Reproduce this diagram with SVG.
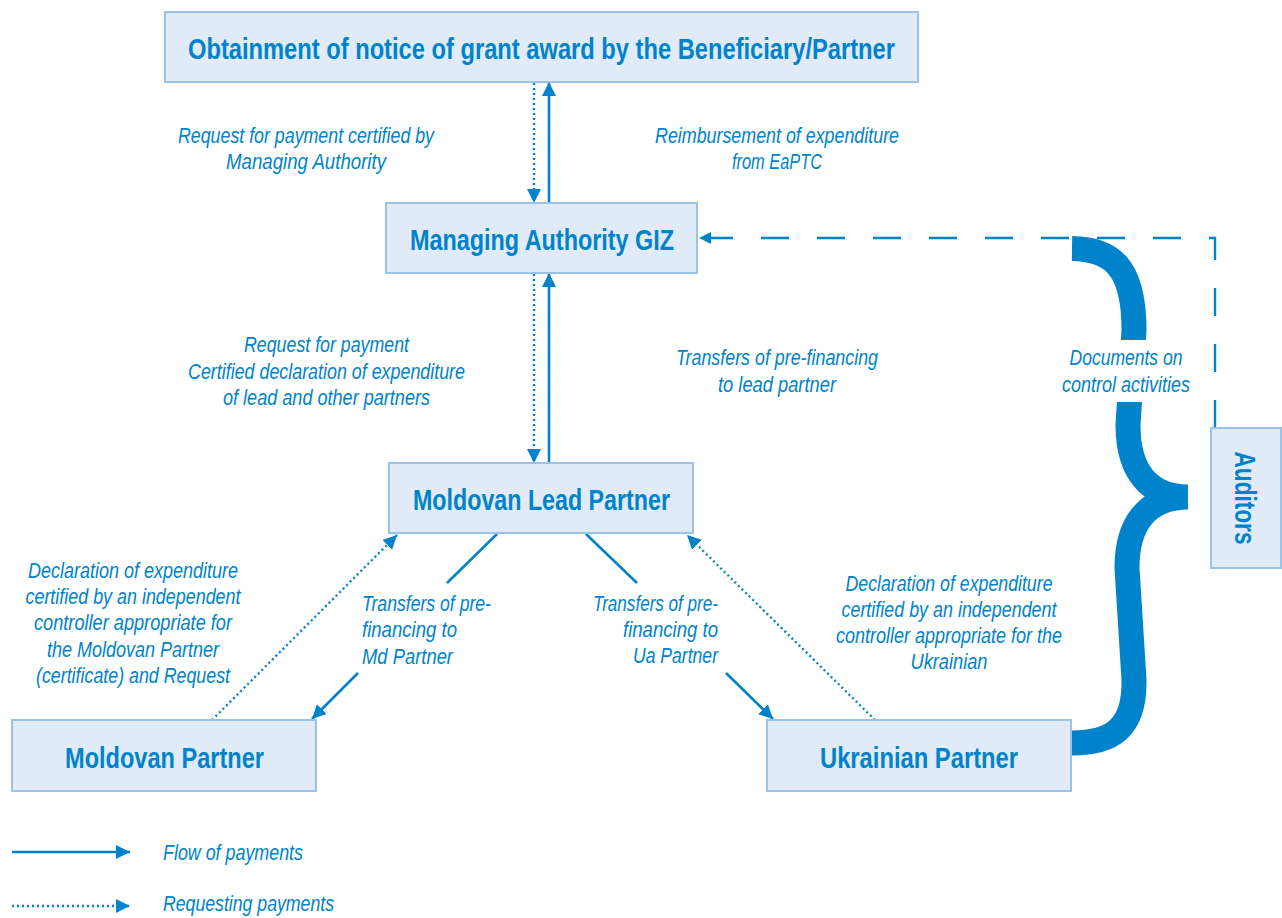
<svg xmlns="http://www.w3.org/2000/svg" width="1282" height="918" viewBox="0 0 1282 918">
<defs>
<marker id="ah" markerUnits="userSpaceOnUse" markerWidth="16" markerHeight="16" refX="14" refY="7" orient="auto">
<path d="M0,0 L14,7 L0,14 z" fill="#0083CA"/>
</marker>
<marker id="ahs" markerUnits="userSpaceOnUse" markerWidth="14" markerHeight="14" refX="12" refY="6" orient="auto">
<path d="M0,0 L12,6 L0,12 z" fill="#0083CA"/>
</marker>
<style>
.box{fill:#E1EBF7;stroke:#9CC3E5;stroke-width:2}
.title{font-family:"Liberation Sans",Arial,sans-serif;font-weight:bold;font-size:30px;fill:#0083CA;text-anchor:middle}
.lbl{font-family:"Liberation Sans",Arial,sans-serif;font-style:italic;font-size:22px;fill:#0083CA}
.c{text-anchor:middle}
.e{text-anchor:end}
.solid{stroke:#0083CA;stroke-width:2.6;fill:none}
.dot{stroke:#0083CA;stroke-width:2.4;fill:none;stroke-dasharray:2 3}
.dash{stroke:#0083CA;stroke-width:2.4;fill:none;stroke-dasharray:28 28}
</style>
</defs>
<rect width="1282" height="918" fill="#FFFFFF"/>

<g id="connectors">
<line class="dot" x1="534" y1="83" x2="534" y2="203" marker-end="url(#ah)"/>
<line class="solid" x1="549" y1="203" x2="549" y2="82" marker-end="url(#ah)"/>
<line class="dot" x1="534" y1="274" x2="534" y2="463" marker-end="url(#ah)"/>
<line class="solid" x1="549" y1="463" x2="549" y2="273" marker-end="url(#ah)"/>
<line class="solid" x1="497" y1="534" x2="447" y2="583"/>
<line class="solid" x1="358" y1="673" x2="312" y2="719" marker-end="url(#ah)"/>
<line class="dot" x1="212" y1="720" x2="397" y2="535" marker-end="url(#ah)"/>
<line class="solid" x1="586" y1="534" x2="637" y2="583"/>
<line class="solid" x1="726" y1="673" x2="773" y2="719" marker-end="url(#ah)"/>
<line class="dot" x1="875" y1="720" x2="687" y2="535" marker-end="url(#ah)"/>
<path class="dash" d="M1215,428 V238 H699" marker-end="url(#ahs)"/>
<path d="M1072,248.5 C1110,249 1134,265 1134,330 L1128,425 C1128,472 1150,497 1188,497 M1188,497 C1150,497 1127,520 1127,568 L1134,680 C1135,730 1110,743 1072,743" fill="none" stroke="#0083CA" stroke-width="25"/>
<line class="solid" x1="12" y1="852" x2="130" y2="852" marker-end="url(#ah)"/>
<line class="dot" x1="12" y1="906" x2="130" y2="906" marker-end="url(#ah)"/>
</g>

<g id="node-grant">
<rect class="box" x="165" y="12" width="753" height="70"/>
<text class="title" x="541.5" y="59" textLength="707" lengthAdjust="spacingAndGlyphs">Obtainment of notice of grant award by the Beneficiary/Partner</text>
</g>
<g id="node-giz">
<rect class="box" x="386" y="203" width="311" height="70"/>
<text class="title" x="542" y="250" textLength="264" lengthAdjust="spacingAndGlyphs">Managing Authority GIZ</text>
</g>
<g id="node-lead">
<rect class="box" x="389" y="463" width="304" height="70"/>
<text class="title" x="541.5" y="510" textLength="257" lengthAdjust="spacingAndGlyphs">Moldovan Lead Partner</text>
</g>
<g id="node-md">
<rect class="box" x="12" y="720" width="304" height="71"/>
<text class="title" x="164.5" y="768" textLength="199" lengthAdjust="spacingAndGlyphs">Moldovan Partner</text>
</g>
<g id="node-ua">
<rect class="box" x="767" y="720" width="304" height="71"/>
<text class="title" x="919" y="768" textLength="198" lengthAdjust="spacingAndGlyphs">Ukrainian Partner</text>
</g>
<g id="node-auditors">
<rect class="box" x="1211" y="428" width="70" height="140"/>
<text class="title" transform="translate(1235,498) rotate(90)" x="0" y="0" textLength="93" lengthAdjust="spacingAndGlyphs">Auditors</text>
</g>

<g id="labels">
<text class="lbl c" x="306" y="143" textLength="256" lengthAdjust="spacingAndGlyphs">Request for payment certified by</text>
<text class="lbl c" x="306" y="169" textLength="160" lengthAdjust="spacingAndGlyphs">Managing Authority</text>
<text class="lbl c" x="777" y="143" textLength="244" lengthAdjust="spacingAndGlyphs">Reimbursement of expenditure</text>
<text class="lbl c" x="777" y="169" textLength="90" lengthAdjust="spacingAndGlyphs">from EaPTC</text>
<text class="lbl c" x="326.5" y="352" textLength="165" lengthAdjust="spacingAndGlyphs">Request for payment</text>
<text class="lbl c" x="326.5" y="379" textLength="277" lengthAdjust="spacingAndGlyphs">Certified declaration of expenditure</text>
<text class="lbl c" x="326.5" y="405" textLength="207" lengthAdjust="spacingAndGlyphs">of lead and other partners</text>
<text class="lbl c" x="777" y="365" textLength="202" lengthAdjust="spacingAndGlyphs">Transfers of pre-financing</text>
<text class="lbl c" x="777" y="392" textLength="118" lengthAdjust="spacingAndGlyphs">to lead partner</text>
<rect x="1058" y="340" width="138" height="62" fill="#FFFFFF"/>
<text class="lbl c" x="1126" y="365" textLength="113" lengthAdjust="spacingAndGlyphs">Documents on</text>
<text class="lbl c" x="1126" y="392" textLength="128" lengthAdjust="spacingAndGlyphs">control activities</text>
<text class="lbl c" x="133" y="578" textLength="210" lengthAdjust="spacingAndGlyphs">Declaration of expenditure</text>
<text class="lbl c" x="133" y="604" textLength="215" lengthAdjust="spacingAndGlyphs">certified by an independent</text>
<text class="lbl c" x="133" y="630" textLength="198" lengthAdjust="spacingAndGlyphs">controller appropriate for</text>
<text class="lbl c" x="133" y="657" textLength="172" lengthAdjust="spacingAndGlyphs">the Moldovan Partner</text>
<text class="lbl c" x="133" y="683" textLength="194" lengthAdjust="spacingAndGlyphs">(certificate) and Request</text>
<text class="lbl" x="362" y="611" textLength="129" lengthAdjust="spacingAndGlyphs">Transfers of pre-</text>
<text class="lbl" x="362" y="637" textLength="95" lengthAdjust="spacingAndGlyphs">financing to</text>
<text class="lbl" x="362" y="664" textLength="91" lengthAdjust="spacingAndGlyphs">Md Partner</text>
<text class="lbl e" x="718" y="611" textLength="125" lengthAdjust="spacingAndGlyphs">Transfers of pre-</text>
<text class="lbl e" x="718" y="637" textLength="95" lengthAdjust="spacingAndGlyphs">financing to</text>
<text class="lbl e" x="718" y="663" textLength="85" lengthAdjust="spacingAndGlyphs">Ua Partner</text>
<text class="lbl c" x="949" y="591" textLength="207" lengthAdjust="spacingAndGlyphs">Declaration of expenditure</text>
<text class="lbl c" x="949" y="617" textLength="215" lengthAdjust="spacingAndGlyphs">certified by an independent</text>
<text class="lbl c" x="949" y="643" textLength="226" lengthAdjust="spacingAndGlyphs">controller appropriate for the</text>
<text class="lbl c" x="949" y="669" textLength="77" lengthAdjust="spacingAndGlyphs">Ukrainian</text>
<text class="lbl" x="163" y="860" textLength="140" lengthAdjust="spacingAndGlyphs">Flow of payments</text>
<text class="lbl" x="163" y="911" textLength="171" lengthAdjust="spacingAndGlyphs">Requesting payments</text>
</g>
</svg>
